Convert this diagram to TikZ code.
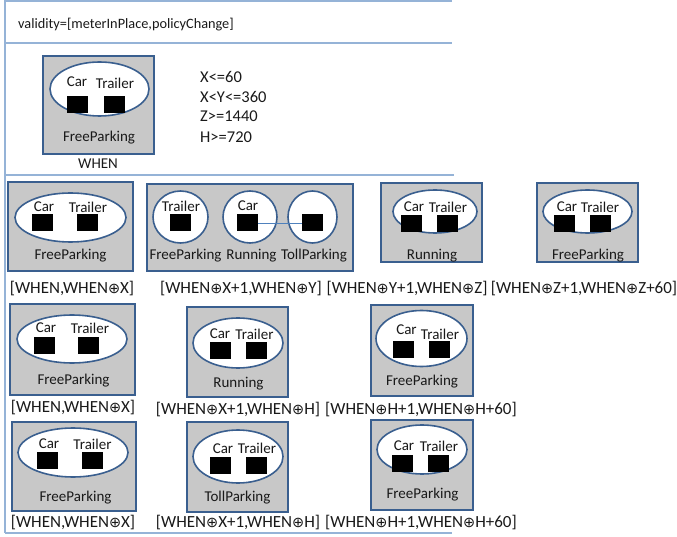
\documentclass[tikz,border=0pt]{standalone}
\usepackage{fontspec}
\usepackage{graphicx}
\setmainfont{Carlito}
\newfontfamily\symf{DejaVu Sans}
\usetikzlibrary{shapes.geometric}
\newcommand\opl{{\symf\scalebox{0.85}{⊕}}}
\definecolor{framecol}{RGB}{149,179,215}
\definecolor{boxblue}{RGB}{58,95,143}
\definecolor{boxgray}{RGB}{200,200,200}
\definecolor{txtcol}{RGB}{25,25,25}
\definecolor{linkblue}{RGB}{79,129,189}
\tikzset{
  frameline/.style={draw=framecol, line width=1.3pt},
  sbox/.style={rectangle, draw=boxblue, fill=boxgray, line width=2pt, inner sep=0pt},
  ell/.style={ellipse, draw=boxblue, fill=white, line width=1.6pt, inner sep=0pt},
  blk/.style={rectangle, fill=black, inner sep=0pt, minimum width=21pt, minimum height=17pt},
  itxt/.style={inner sep=0pt, font=\fontsize{15}{17}\selectfont, text=txtcol},
  htxt/.style={inner sep=0pt, font=\fontsize{14.3}{17}\selectfont, text=txtcol},
  ctxt/.style={inner sep=0pt, font=\fontsize{16.5}{19}\selectfont, text=txtcol},
  lbl/.style={inner sep=0pt, font=\fontsize{17}{20}\selectfont, text=txtcol},
  link/.style={draw=linkblue, line width=0.8pt}
}
\begin{document}
\begin{tikzpicture}[x=1pt,y=-1pt]
\useasboundingbox (0,0) rectangle (677,537);
% frame
\draw[frameline] (5,0) -- (5,533);
\draw[frameline] (5,1) -- (452,1);
\draw[frameline] (5,43) -- (452,43);
\draw[frameline] (5,175) -- (454,175);
\draw[frameline] (5,533) -- (452,533);
% header
\node[htxt, anchor=west] (val) at (18,25) {validity=[meterInPlace,policyChange]};
% WHEN box
\node[sbox, minimum width=111pt, minimum height=98pt] (w) at (98.5,105) {};
\node[ell, minimum width=99pt, minimum height=54pt] (we) at (99.5,89) {};
\node[itxt] (wcar) at (77,82) {Car};
\node[itxt] (wtr) at (115,83) {Trailer};
\node[blk] (wsq1) at (77.5,104.5) {};
\node[blk] (wsq2) at (114.5,104.5) {};
\node[itxt] (wfp) at (99,138) {FreeParking};
\node[itxt] (wl) at (98,164) {WHEN};
% constraints
\node[ctxt, anchor=west] (k1) at (200,77) {X<=60};
\node[ctxt, anchor=west] (k2) at (200,96.5) {X<Y<=360};
\node[ctxt, anchor=west] (k3) at (200,116.5) {Z>=1440};
\node[ctxt, anchor=west] (k4) at (200,137) {H>=720};
% ---------- row 1 ----------
% B1
\node[sbox, minimum width=125pt, minimum height=89pt] (b1) at (70.5,226.5) {};
\node[ell, minimum width=111pt, minimum height=49pt] (e1) at (70.5,217.5) {};
\node[itxt] (b1car) at (44,207) {Car};
\node[itxt] (b1tr) at (88,207) {Trailer};
\node[blk] (b1s1) at (42,223) {};
\node[blk] (b1s2) at (87,223) {};
\node[itxt] (b1t) at (70.5,256) {FreeParking};
\node[lbl] (l1) at (72,289) {[WHEN,WHEN\opl X]};
% B2
\node[sbox, minimum width=206pt, minimum height=87pt] (b2) at (250,227.5) {};
\node[ell, minimum width=55pt, minimum height=52pt] (c1) at (180.5,217) {};
\node[ell, minimum width=54pt, minimum height=52pt] (c2) at (250,217) {};
\node[ell, minimum width=49pt, minimum height=52pt] (c3) at (312.5,217) {};
\node[itxt] (b2tr) at (181,206) {Trailer};
\node[itxt] (b2car) at (248,206) {Car};
\node[blk] (b2s1) at (180.5,223) {};
\node[blk] (b2s2) at (247.5,223) {};
\node[blk] (b2s3) at (312.5,223) {};
\draw[link] (b2s2.east) -- (b2s3.west);
\node[itxt] (b2t1) at (185.5,256) {FreeParking};
\node[itxt] (b2t2) at (251.5,256) {Running};
\node[itxt] (b2t3) at (314,256) {TollParking};
\node[lbl] (l2) at (241,289) {[WHEN\opl X+1,WHEN\opl Y]};
% B3
\node[sbox, minimum width=101pt, minimum height=79pt] (b3) at (431.5,222.5) {};
\node[ell, minimum width=84pt, minimum height=43pt] (e3) at (435,211.5) {};
\node[itxt] (b3car) at (414,207) {Car};
\node[itxt] (b3tr) at (448,207) {Trailer};
\node[blk] (b3s1) at (411,224) {};
\node[blk] (b3s2) at (447,224) {};
\node[itxt] (b3t) at (432,256) {Running};
\node[lbl] (l3) at (407,289) {[WHEN\opl Y+1,WHEN\opl Z]};
% B4
\node[sbox, minimum width=101pt, minimum height=79pt] (b4) at (587.5,222.5) {};
\node[ell, minimum width=89pt, minimum height=43pt] (e4) at (587.5,211.5) {};
\node[itxt] (b4car) at (567,207) {Car};
\node[itxt] (b4tr) at (600,207) {Trailer};
\node[blk] (b4s1) at (564,224) {};
\node[blk] (b4s2) at (600,224) {};
\node[itxt] (b4t) at (588,256) {FreeParking};
\node[lbl] (l4) at (584,289) {[WHEN\opl Z+1,WHEN\opl Z+60]};
% ---------- row 2 ----------
% B5
\node[sbox, minimum width=125pt, minimum height=91pt] (b5) at (72.5,349.5) {};
\node[ell, minimum width=110pt, minimum height=48pt] (e5) at (72,339) {};
\node[itxt] (b5car) at (46,328) {Car};
\node[itxt] (b5tr) at (90,328) {Trailer};
\node[blk] (b5s1) at (44,345) {};
\node[blk] (b5s2) at (88.5,345) {};
\node[itxt] (b5t) at (73.5,381) {FreeParking};
\node[lbl] (l5) at (73,408) {[WHEN,WHEN\opl X]};
% B6
\node[sbox, minimum width=101pt, minimum height=90pt] (b6) at (237.5,352) {};
\node[ell, minimum width=90pt, minimum height=50pt] (e6) at (238,343) {};
\node[itxt] (b6car) at (220,334) {Car};
\node[itxt] (b6tr) at (254.5,334) {Trailer};
\node[blk] (b6s1) at (220,350.5) {};
\node[blk] (b6s2) at (256.5,350.5) {};
\node[itxt] (b6t) at (238.5,384) {Running};
\node[lbl] (l6) at (238,410) {[WHEN\opl X+1,WHEN\opl H]};
% B7
\node[sbox, minimum width=102pt, minimum height=91pt] (b7) at (422,350.5) {};
\node[ell, minimum width=91pt, minimum height=56pt] (e7) at (421.5,338.5) {};
\node[itxt] (b7car) at (406.5,329.5) {Car};
\node[itxt] (b7tr) at (440,334) {Trailer};
\node[blk] (b7s1) at (403.5,349.5) {};
\node[blk] (b7s2) at (439.5,349.5) {};
\node[itxt] (b7t) at (422,382) {FreeParking};
\node[lbl] (l7) at (421,410) {[WHEN\opl H+1,WHEN\opl H+60]};
% ---------- row 3 ----------
% B8
\node[sbox, minimum width=124pt, minimum height=89pt] (b8) at (74,466.5) {};
\node[ell, minimum width=110pt, minimum height=49pt] (e8) at (73,452.5) {};
\node[itxt] (b8car) at (49,444) {Car};
\node[itxt] (b8tr) at (92.5,444) {Trailer};
\node[blk] (b8s1) at (47,460.5) {};
\node[blk] (b8s2) at (92.5,460.5) {};
\node[itxt] (b8t) at (75.5,498) {FreeParking};
\node[lbl] (l8) at (73,523) {[WHEN,WHEN\opl X]};
% B9
\node[sbox, minimum width=101pt, minimum height=90pt] (b9) at (237.5,467) {};
\node[ell, minimum width=90pt, minimum height=53pt] (e9) at (238,456.5) {};
\node[itxt] (b9car) at (223,448.5) {Car};
\node[itxt] (b9tr) at (257,448.5) {Trailer};
\node[blk] (b9s1) at (220.5,465.5) {};
\node[blk] (b9s2) at (256.5,465.5) {};
\node[itxt] (b9t) at (237.5,498) {TollParking};
\node[lbl] (l9) at (238,523) {[WHEN\opl X+1,WHEN\opl H]};
% B10
\node[sbox, minimum width=102pt, minimum height=90pt] (b10) at (422,465) {};
\node[ell, minimum width=90pt, minimum height=49pt] (e10) at (422,449.5) {};
\node[itxt] (b10car) at (404,446) {Car};
\node[itxt] (b10tr) at (439,446) {Trailer};
\node[blk] (b10s1) at (402.5,463) {};
\node[blk] (b10s2) at (438,463) {};
\node[itxt] (b10t) at (422.5,495) {FreeParking};
\node[lbl] (l10) at (421,523) {[WHEN\opl H+1,WHEN\opl H+60]};
\end{tikzpicture}
\end{document}
